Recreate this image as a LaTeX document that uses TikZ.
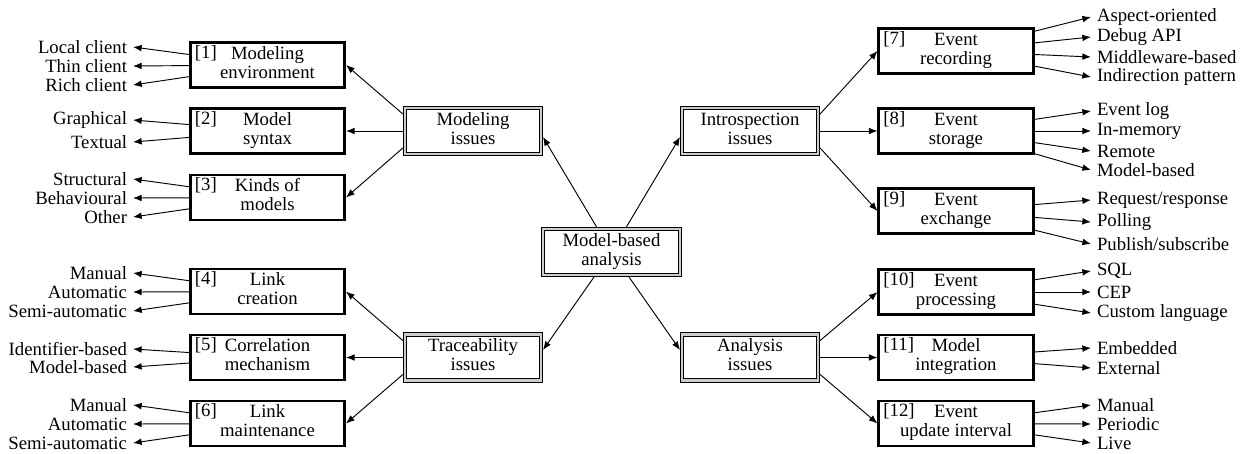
\documentclass[tikz,border=0pt]{standalone}
\usepackage{fontspec}
\setmainfont{Liberation Serif}
\usetikzlibrary{arrows.meta}
\newcommand{\twoline}[2]{\strut#1\\\strut#2}
\tikzset{
  txt/.style={font=\fontsize{10pt}{10pt}\selectfont},
  topic/.style={txt, draw, line width=1.4pt, align=center, inner sep=0pt,
                minimum width=82.4pt, minimum height=24.2pt},
  numlbl/.style={txt, anchor=base west, inner sep=0pt, xshift=3pt, yshift=-9.1pt},
  issue/.style={txt, draw, line width=0.5pt, double=black!20, double distance=1.3pt,
                outer sep=1.15pt, align=center, inner sep=0pt,
                minimum width=72.4pt, minimum height=24.4pt},
  core/.style={issue, minimum width=72.9pt},
  leafl/.style={txt, anchor=east, inner xsep=3pt, inner ysep=1pt},
  leafr/.style={txt, anchor=west, inner xsep=3pt, inner ysep=1pt},
  arr/.style={-{Latex[length=4.6pt,width=3.6pt]}, line width=0.5pt},
}

\begin{document}
\begin{tikzpicture}[x=0.5336pt, y=-0.5336pt]
\useasboundingbox (0,0) rectangle (1243,453);
% centre and the four issue groups
\node[core] (mba) at (611.5,252) {\twoline{Model-based}{analysis}};
\node[issue] (mod) at (473,131) {\twoline{Modeling}{issues}};
\node[issue] (tra) at (473,357.5) {\twoline{Traceability}{issues}};
\node[issue] (int) at (750,131) {\twoline{Introspection}{issues}};
\node[issue] (ana) at (750,357.5) {\twoline{Analysis}{issues}};
\draw[arr] (mba) -- ([yshift=-3.2pt]mod.east);
\draw[arr] (mba) -- ([yshift=-3.2pt]int.west);
\draw[arr] (mba) -- ([yshift=4pt]tra.east);
\draw[arr] (mba) -- ([yshift=4pt]ana.west);
% numbered topics
\node[topic, label={[numlbl]north west:[1]}] (t1) at (267.5,65) {\twoline{Modeling}{environment}};
\node[topic, label={[numlbl]north west:[2]}] (t2) at (267.5,131) {\twoline{Model}{syntax}};
\node[topic, label={[numlbl]north west:[3]}] (t3) at (267.5,197.5) {\twoline{Kinds of}{models}};
\node[topic, label={[numlbl]north west:[4]}] (t4) at (267.5,291.5) {\twoline{Link}{creation}};
\node[topic, label={[numlbl]north west:[5]}] (t5) at (267.5,357.5) {\twoline{Correlation}{mechanism}};
\node[topic, label={[numlbl]north west:[6]}] (t6) at (267.5,423.5) {\twoline{Link}{maintenance}};
\node[topic, label={[numlbl]north west:[7]}] (t7) at (956,51) {\twoline{Event}{recording}};
\node[topic, label={[numlbl]north west:[8]}] (t8) at (956,131) {\twoline{Event}{storage}};
\node[topic, label={[numlbl]north west:[9]}] (t9) at (956,211) {\twoline{Event}{exchange}};
\node[topic, label={[numlbl]north west:[10]}] (t10) at (956,292) {\twoline{Event}{processing}};
\node[topic, label={[numlbl]north west:[11]}] (t11) at (956,357.5) {\twoline{Model}{integration}};
\node[topic, label={[numlbl]north west:[12]}] (t12) at (956,423.5) {\twoline{Event}{update interval}};
\draw[arr] ([yshift=9pt]mod.west) -- (t1.east);
\draw[arr] (mod.west) -- (t2.east);
\draw[arr] ([yshift=-9pt]mod.west) -- (t3.east);
\draw[arr] ([yshift=9pt]tra.west) -- (t4.east);
\draw[arr] (tra.west) -- (t5.east);
\draw[arr] ([yshift=-9pt]tra.west) -- (t6.east);
\draw[arr] ([yshift=9pt]int.east) -- (t7.west);
\draw[arr] (int.east) -- (t8.west);
\draw[arr] ([yshift=-9pt]int.east) -- (t9.west);
\draw[arr] ([yshift=9pt]ana.east) -- (t10.west);
\draw[arr] (ana.east) -- (t11.west);
\draw[arr] ([yshift=-9pt]ana.east) -- (t12.west);
% options, left side
\foreach \t/\y in {Local client/47, Thin client/66, Rich client/85}
  {\node[leafl] (a\y) at (133,\y) {\t}; \draw[arr] (t1) -- (a\y.east);}
\foreach \t/\y in {Graphical/120, Textual/142}
  {\node[leafl] (a\y) at (133,\y) {\t}; \draw[arr] (t2) -- (a\y.east);}
\foreach \t/\y in {Structural/179, Behavioural/198, Other/217}
  {\node[leafl] (a\y) at (133,\y) {\t}; \draw[arr] (t3) -- (a\y.east);}
\foreach \t/\y in {Manual/273, Automatic/292, Semi-automatic/311}
  {\node[leafl] (a\y) at (133,\y) {\t}; \draw[arr] (t4) -- (a\y.east);}
\foreach \t/\y in {Identifier-based/349, Model-based/367}
  {\node[leafl] (a\y) at (133,\y) {\t}; \draw[arr] (t5) -- (a\y.east);}
\foreach \t/\y in {Manual/405, Automatic/424, Semi-automatic/443}
  {\node[leafl] (a\y) at (133,\y) {\t}; \draw[arr] (t6) -- (a\y.east);}
% options, right side
\foreach \t/\y in {Aspect-oriented/17, Debug API/37, Middleware-based/57, Indirection pattern/77}
  {\node[leafr] (b\y) at (1091,\y) {\t}; \draw[arr] (t7) -- (b\y.west);}
\foreach \t/\y in {Event log/111, In-memory/131, Remote/151, Model-based/170}
  {\node[leafr] (b\y) at (1091,\y) {\t}; \draw[arr] (t8) -- (b\y.west);}
\foreach \t/\y in {{Request/response}/200, Polling/222, {Publish/subscribe}/244}
  {\node[leafr] (b\y) at (1091,\y) {\t}; \draw[arr] (t9) -- (b\y.west);}
\foreach \t/\y in {SQL/271, CEP/292, Custom language/313}
  {\node[leafr] (b\y) at (1091,\y) {\t}; \draw[arr] (t10) -- (b\y.west);}
\foreach \t/\y in {Embedded/348, External/368}
  {\node[leafr] (b\y) at (1091,\y) {\t}; \draw[arr] (t11) -- (b\y.west);}
\foreach \t/\y in {Manual/405, Periodic/424, Live/443}
  {\node[leafr] (b\y) at (1091,\y) {\t}; \draw[arr] (t12) -- (b\y.west);}
\end{tikzpicture}
\end{document}
